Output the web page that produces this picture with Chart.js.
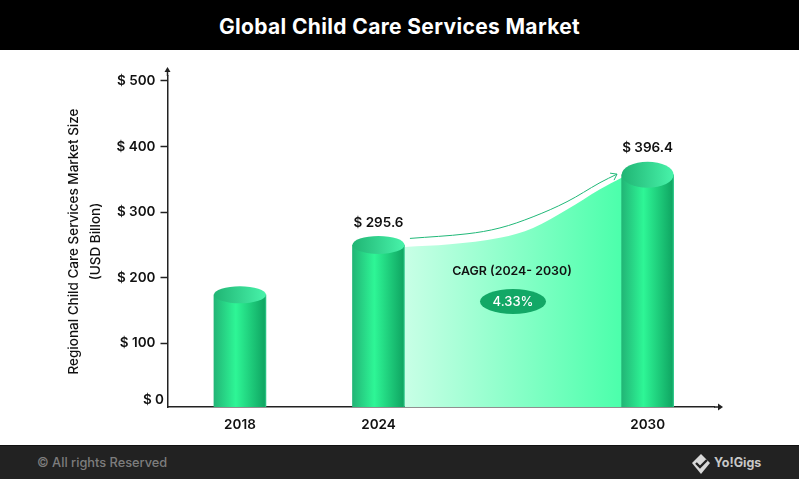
<!DOCTYPE html>
<html>
<head>
<meta charset="utf-8">
<title>Global Child Care Services Market</title>
<script src="https://cdn.jsdelivr.net/npm/chart.js@4"></script>
<style>
  body { margin: 0; background: #fff; width: 799px; height: 479px; overflow: hidden; position: relative; }
  #header { position: absolute; left: 0; top: 0; width: 799px; height: 50px; background: #000; color: #fff;
    font: 700 21px Inter, sans-serif; letter-spacing: 0.35px; text-align: center; line-height: 53px; }
  #footer { position: absolute; left: 0; top: 445px; width: 799px; height: 34px; background: #222;
    border-top: 1px solid #111; box-sizing: border-box; }
  #rights { position: absolute; left: 37px; top: 9px; color: #7d7d7d; font: 500 12.8px Inter, sans-serif; }
  #brand { position: absolute; left: 714px; top: 9px; color: #c8c8c8; font: 700 12.5px Inter, sans-serif; }
  #logo { position: absolute; left: 690px; top: 7px; }
  #chart { position: absolute; left: 0; top: 50px; }
</style>
</head>
<body>
<div id="header">Global Child Care Services Market</div>
<canvas id="chart" width="799" height="395"></canvas>
<div id="footer">
  <span id="rights">&copy; All rights Reserved</span>
  <svg id="logo" width="22" height="22" viewBox="0 0 22 22">
    <path d="M11 1 L20 10 L11 21 L2 10 Z" fill="#d8d8d8"/>
    <path d="M6 10 L10 14 L17 7" fill="none" stroke="#222" stroke-width="2.4"/>
  </svg>
  <span id="brand">Yo!Gigs</span>
</div>

<script>
// Chart data
const categories = ["2018", "2024", "2030"];
const yearSlots = [1, 2, 3.943]; // years are not evenly spaced along the axis
// Bar heights as read against the axis (the picture is not to scale with its printed labels)
const barHeights = [174, 250, 357];
const barLabels = ["", "$ 295.6", "$ 396.4"];
const capHeights = [8.5, 9, 13];
const yTicks = [0, 100, 200, 300, 400, 500];

// Shaded area between 2024 and 2030
const areaSlots = [2.191, 2.516, 2.877, 3.116, 3.361, 3.599, 3.758];
const areaValues = [247, 251, 261, 276, 304, 335, 353];

// Growth arrow above the area
const arrowSlots = [2.227, 2.639, 2.877, 3.116, 3.361, 3.599, 3.722];
const arrowValues = [260, 267, 276, 293, 316, 345, 358];

const cagrTitle = "CAGR (2024- 2030)";
const cagrValue = "4.33%";
const labelFont = "600 13.5px Inter, sans-serif";

function toPoints(xs, ys) {
  return xs.map((x, i) => ({ x: x, y: ys[i] }));
}

// Horizontal shading of each cylinder body
function barGradient(context) {
  const x = context.chart.scales.x.getPixelForValue(yearSlots[context.dataIndex]);
  if (!Number.isFinite(x)) return "#2ffb9b";
  const g = context.chart.ctx.createLinearGradient(x - 26, 0, x + 26, 0);
  g.addColorStop(0, "#22b576");
  g.addColorStop(0.42, "#2ef696");
  g.addColorStop(0.97, "#10a763");
  g.addColorStop(1, "#2fc98a");
  return g;
}

function areaGradient(context) {
  const xs = context.chart.scales.x;
  const left = xs ? xs.getPixelForValue(areaSlots[0]) : NaN;
  if (!Number.isFinite(left)) return "#8fffcc";
  const g = context.chart.ctx.createLinearGradient(left, 0, xs.getPixelForValue(areaSlots[6]), 0);
  g.addColorStop(0, "#c8ffe6");
  g.addColorStop(1, "#4bffab");
  return g;
}

// Cylinder caps, labels, axis arrows
const decorations = {
  id: "decorations",
  afterDatasetsDraw(chart) {
    const ctx = chart.ctx;
    const area = chart.chartArea;
    const bars = chart.getDatasetMeta(2).data;

    ctx.save();
    bars.forEach((bar, i) => {
      const g = ctx.createLinearGradient(bar.x - 26, 0, bar.x + 26, 0);
      g.addColorStop(0, "#20b574");
      g.addColorStop(1, "#48f3aa");
      ctx.fillStyle = g;
      ctx.beginPath();
      ctx.ellipse(bar.x, bar.y, 26, capHeights[i], 0, 0, Math.PI * 2);
      ctx.fill();
      if (barLabels[i]) {
        ctx.fillStyle = "#111";
        ctx.font = labelFont;
        ctx.textAlign = "center";
        ctx.textBaseline = "middle";
        ctx.fillText(barLabels[i], bar.x, bar.y - capHeights[i] - 13.5);
      }
    });

    // Arrow head at the end of the growth line
    const tip = chart.getDatasetMeta(1).data[arrowSlots.length - 1];
    ctx.strokeStyle = "#20b878";
    ctx.lineWidth = 1;
    ctx.beginPath();
    ctx.moveTo(tip.x - 7, tip.y - 1);
    ctx.lineTo(tip.x, tip.y);
    ctx.lineTo(tip.x - 3, tip.y + 6);
    ctx.stroke();

    // CAGR note
    ctx.fillStyle = "#111";
    ctx.font = "600 12.4px Inter, sans-serif";
    ctx.textAlign = "center";
    ctx.textBaseline = "middle";
    ctx.fillText(cagrTitle, 512, 221);
    ctx.fillStyle = "#12a866";
    ctx.beginPath();
    ctx.ellipse(513, 251.5, 33, 12.5, 0, 0, Math.PI * 2);
    ctx.fill();
    ctx.fillStyle = "#fff";
    ctx.font = "500 13px Inter, sans-serif";
    ctx.fillText(cagrValue, 513, 252);

    // Zero label sits above the x axis
    ctx.fillStyle = "#111";
    ctx.font = labelFont;
    ctx.textAlign = "right";
    ctx.fillText("$ " + yTicks[0], 164, area.bottom - 7);

    // Axis extensions and arrow heads
    ctx.strokeStyle = "#222";
    ctx.fillStyle = "#222";
    ctx.lineWidth = 1.5;
    ctx.beginPath();
    ctx.moveTo(area.left, area.top);
    ctx.lineTo(area.left, 20);
    ctx.stroke();
    ctx.beginPath();
    ctx.moveTo(area.left - 3, 22);
    ctx.lineTo(area.left + 3, 22);
    ctx.lineTo(area.left, 17);
    ctx.closePath();
    ctx.fill();
    ctx.beginPath();
    ctx.moveTo(area.right + 4, area.bottom - 3.5);
    ctx.lineTo(area.right + 4, area.bottom + 3.5);
    ctx.lineTo(area.right + 9, area.bottom);
    ctx.closePath();
    ctx.fill();
    ctx.beginPath();
    ctx.moveTo(area.right, area.bottom);
    ctx.lineTo(area.right + 5, area.bottom);
    ctx.stroke();
    ctx.restore();
  },
};

new Chart(document.getElementById("chart"), {
  type: "bar",
  data: {
    datasets: [
      {
        type: "line",
        data: toPoints(areaSlots, areaValues),
        fill: "origin",
        backgroundColor: areaGradient,
        borderWidth: 0,
        pointRadius: 0,
        tension: 0.35,
        order: 3,
      },
      {
        type: "line",
        data: toPoints(arrowSlots, arrowValues),
        fill: false,
        borderColor: "#20b878",
        borderWidth: 1,
        pointRadius: 0,
        tension: 0.35,
        order: 2,
      },
      {
        type: "bar",
        data: toPoints(yearSlots, barHeights),
        backgroundColor: barGradient,
        barThickness: 52,
        order: 1,
      },
    ],
  },
  options: {
    responsive: false,
    animation: false,
    devicePixelRatio: 1,
    layout: { padding: { top: 26, right: 85 } },
    plugins: { legend: { display: false }, tooltip: { enabled: false } },
    scales: {
      x: {
        type: "linear",
        offset: false,
        min: 0.477,
        max: 4.422,
        afterBuildTicks(scale) {
          scale.ticks = yearSlots.map((v) => ({ value: v }));
        },
        afterFit(scale) {
          scale.height = 38;
        },
        grid: { display: false },
        border: { color: "#222", width: 1.5 },
        ticks: {
          autoSkip: false,
          maxRotation: 0,
          padding: 2,
          color: "#111",
          font: { family: "Inter, sans-serif", size: 13.5, weight: "600" },
          callback: (v) => categories[yearSlots.indexOf(v)],
        },
      },
      y: {
        min: 3,
        max: 507.6,
        afterBuildTicks(scale) {
          scale.ticks = yTicks.filter((v) => v >= scale.min).map((v) => ({ value: v }));
        },
        afterFit(scale) {
          scale.width = 167.5;
        },
        grid: { drawOnChartArea: false, tickLength: 7, color: "#222", tickWidth: 1.5 },
        border: { color: "#222", width: 1.5 },
        ticks: {
          padding: 5,
          color: "#111",
          font: { family: "Inter, sans-serif", size: 13.5, weight: "600" },
          callback: (v) => "$ " + v,
        },
        title: {
          display: true,
          text: ["Regional Child Care Services Market Size", "(USD Billon)"],
          color: "#111",
          font: { family: "Inter, sans-serif", size: 13.5, weight: "500", lineHeight: 1.63 },
          padding: { top: 63, bottom: 0 },
        },
      },
    },
  },
  plugins: [decorations],
});
</script>
</body>
</html>
